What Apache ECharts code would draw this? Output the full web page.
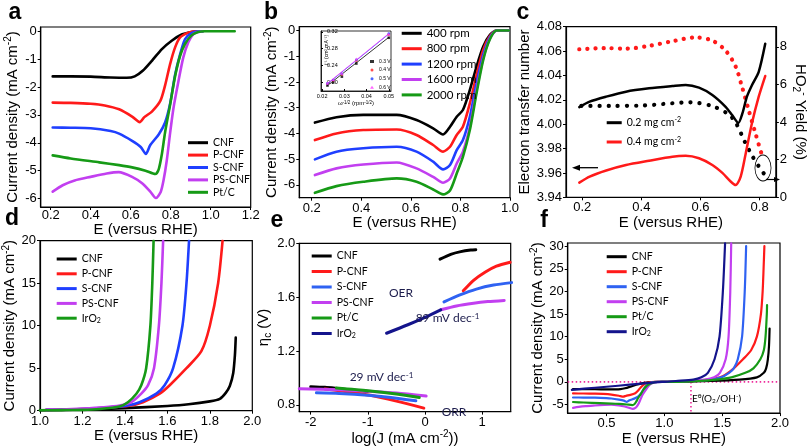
<!DOCTYPE html>
<html><head><meta charset="utf-8">
<script src="https://cdn.jsdelivr.net/npm/echarts@6/dist/echarts.min.js"></script>
<style>html,body{margin:0;padding:0;background:#fff}#c{width:810px;height:447px}</style>
</head><body><div id="c"></div>
<script>
// ================= DATA =================
// ---- Panel a : ORR LSV (E vs RHE, mA cm-2)
const aCNF   = [[0.21,-1.62],[0.3,-1.62],[0.4,-1.63],[0.5,-1.66],[0.58,-1.67],[0.62,-1.62],[0.66,-1.42],[0.706,-1.06],[0.756,-0.64],[0.805,-0.34],[0.855,-0.12],[0.904,-0.03],[0.94,0],[0.96,0]];
const aPCNF  = [[0.21,-2.56],[0.3,-2.57],[0.4,-2.6],[0.47,-2.66],[0.542,-2.8],[0.607,-3.06],[0.645,-3.26],[0.668,-3.08],[0.706,-2.88],[0.748,-2.5],[0.772,-1.94],[0.797,-1.18],[0.822,-0.58],[0.847,-0.22],[0.888,-0.05],[0.92,0],[0.94,0]];
const aSCNF  = [[0.21,-3.45],[0.3,-3.46],[0.4,-3.48],[0.5,-3.58],[0.542,-3.67],[0.607,-3.93],[0.65,-4.15],[0.676,-4.4],[0.698,-4.08],[0.74,-3.7],[0.772,-3.27],[0.797,-2.6],[0.822,-1.56],[0.847,-0.83],[0.872,-0.28],[0.904,-0.07],[0.94,0],[0.96,0]];
const aPSCNF = [[0.21,-5.75],[0.26,-5.52],[0.32,-5.35],[0.4,-5.22],[0.48,-5.1],[0.54,-5.05],[0.607,-5.22],[0.657,-5.45],[0.698,-5.75],[0.726,-5.98],[0.75,-5.76],[0.764,-5.35],[0.78,-4.65],[0.797,-3.65],[0.814,-2.75],[0.838,-1.82],[0.863,-0.94],[0.888,-0.4],[0.912,-0.11],[0.937,-0.03],[0.96,0]];
const aPtC   = [[0.21,-4.45],[0.3,-4.56],[0.443,-4.7],[0.542,-4.8],[0.607,-4.88],[0.674,-5.0],[0.723,-5.12],[0.74,-4.95],[0.756,-4.4],[0.772,-3.62],[0.797,-2.64],[0.822,-1.61],[0.847,-0.88],[0.872,-0.45],[0.904,-0.15],[0.937,-0.03],[0.97,0],[1.12,0]];
const aXTicks = [0.2,0.4,0.6,0.8,1.0,1.2];
const aYTicks = [-6,-5,-4,-3,-2,-1,0];

// ---- Panel b : rotating speeds
const bE     = [0.213,0.30,0.408,0.543,0.623,0.69,0.73,0.758,0.785,0.81,0.838,0.865,0.892,0.919,0.946,0.995];
const b400   = [-3.58,-3.37,-3.28,-3.28,-3.48,-3.8,-4.04,-3.74,-3.35,-3.09,-2.31,-1.4,-0.62,-0.17,0,0];
const b800   = [-4.26,-4.0,-3.87,-3.85,-4.06,-4.45,-4.71,-4.52,-4.06,-3.74,-2.83,-1.73,-0.75,-0.21,0,0];
const b1200  = [-5.01,-4.71,-4.58,-4.52,-4.71,-5.1,-5.4,-5.23,-4.65,-4.26,-3.35,-2.05,-0.95,-0.26,0,0];
const b1600  = [-5.62,-5.36,-5.21,-5.13,-5.36,-5.69,-5.92,-5.75,-5.17,-4.71,-3.74,-2.31,-1.08,-0.31,0,0];
const b2000  = [-6.31,-6.05,-5.88,-5.75,-5.88,-6.18,-6.37,-6.22,-5.56,-4.91,-3.87,-2.44,-1.14,-0.34,0,0];
const bXTicks = [0.2,0.4,0.6,0.8,1.0];
const bYTicks = [-6,-5,-4,-3,-2,-1,0];
// inset (K-L plot)
const iW     = [0.0224,0.025,0.0289,0.0354,0.05];
const i03    = [0.193,0.201,0.214,0.245,0.306];
const i04    = [0.197,0.205,0.219,0.252,0.313];
const i05    = [0.198,0.206,0.221,0.254,0.316];
const i06    = [0.199,0.207,0.222,0.256,0.315];
const iFitW  = [0.0224,0.05];
const iFit03 = [0.193,0.307];
const iFit05 = [0.197,0.315];
const iFit06 = [0.198,0.316];
const iXTicks = [0.02,0.03,0.04,0.05];
const iYTicks = [0.20,0.24,0.28,0.32];

// ---- Panel c : electron transfer number (left) and HO2- yield (right)
const cN02 = [[0.19,4.014],[0.225,4.0185],[0.281,4.0226],[0.348,4.0267],[0.426,4.0294],[0.505,4.0313],[0.55,4.0322],[0.595,4.030],[0.64,4.024],[0.685,4.0143],[0.707,4.0075],[0.728,4.001],[0.742,4.009],[0.757,4.0226],[0.774,4.032],[0.797,4.043],[0.819,4.066]];
const cN04 = [[0.19,3.952],[0.225,3.957],[0.281,3.962],[0.348,3.9665],[0.426,3.970],[0.505,3.9733],[0.55,3.974],[0.595,3.972],[0.64,3.9665],[0.674,3.960],[0.702,3.953],[0.719,3.950],[0.736,3.957],[0.753,3.976],[0.774,4.0007],[0.797,4.0226],[0.819,4.0395]];
const cY02 = [[0.197,4.86],[0.3,4.86],[0.393,4.87],[0.505,5.0],[0.565,5.05],[0.64,4.85],[0.696,4.4],[0.72,3.95],[0.75,2.95],[0.775,2.2],[0.797,1.65],[0.815,1.25]];
const cY04 = [[0.19,7.87],[0.281,7.93],[0.348,7.9],[0.426,8.05],[0.505,8.3],[0.584,8.5],[0.64,8.33],[0.685,7.8],[0.719,6.95],[0.74,5.9],[0.763,4.64],[0.786,3.4],[0.808,2.25],[0.815,2.05]];
const cXTicks = [0.2,0.4,0.6,0.8];
const cNTicks = [3.94,3.96,3.98,4.00,4.02,4.04,4.06,4.08];
const cYTicks = [0,2,4,6,8];

// ---- Panel d : OER LSV
const dCNF   = [[1.0,0.05],[1.2,0.15],[1.4,0.3],[1.6,0.55],[1.7,0.75],[1.8,1.1],[1.847,1.4],[1.875,2.1],[1.894,2.9],[1.91,4.4],[1.918,6.5],[1.922,8.6]];
const dPCNF  = [[1.03,0.1],[1.2,0.2],[1.3,0.35],[1.42,0.6],[1.485,1],[1.564,2],[1.611,3],[1.69,5],[1.76,7],[1.8,10],[1.839,15],[1.86,20]];
const dSCNF  = [[1.03,0.1],[1.2,0.2],[1.3,0.35],[1.406,0.6],[1.469,1],[1.548,2],[1.587,3],[1.627,5],[1.671,10],[1.69,15],[1.702,20]];
const dPSCNF = [[1.03,0.1],[1.1,0.15],[1.2,0.25],[1.3,0.4],[1.375,0.6],[1.43,1],[1.477,2],[1.509,3],[1.537,5],[1.56,10],[1.572,15],[1.58,20]];
const dIrO2  = [[1.0,0.05],[1.1,0.07],[1.2,0.1],[1.28,0.2],[1.375,0.5],[1.414,1],[1.454,2],[1.477,3],[1.5,5],[1.52,10],[1.529,15],[1.535,20]];
const dXTicks = [1.0,1.2,1.4,1.6,1.8,2.0];
const dYTicks = [0,5,10,15,20];

// ---- Panel e : Tafel plots
const eCNF_OER   = [[0.263,1.882],[0.45,1.918],[0.626,1.938],[0.8,1.95],[0.889,1.953]];
const ePCNF_OER  = [[0.67,1.647],[0.85,1.725],[1.05,1.785],[1.25,1.83],[1.49,1.859]];
const eSCNF_OER  = [[0.333,1.565],[0.6,1.615],[0.9,1.66],[1.2,1.69],[1.515,1.708]];
const ePSCNF_OER = [[0.275,1.506],[0.55,1.535],[0.85,1.555],[1.1,1.567],[1.386,1.576]];
const eIrO2_OER  = [[-0.673,1.332],[-0.3,1.395],[0.0,1.45],[0.275,1.506]];
const eCNF_ORR   = [[-2.0,0.935],[-1.75,0.93],[-1.5,0.92],[-1.25,0.91],[-1.0,0.9]];
const ePCNF_ORR  = [[-1.75,0.918],[-1.4,0.9],[-0.95,0.871],[-0.5,0.828],[-0.02,0.776]];
const eSCNF_ORR  = [[-1.9,0.89],[-1.5,0.885],[-1.0,0.872],[-0.6,0.855],[-0.16,0.83]];
const ePSCNF_ORR = [[-2.2,0.92],[-1.5,0.912],[-1.0,0.902],[-0.5,0.888],[0.02,0.866]];
const ePtC_ORR   = [[-1.55,0.925],[-1.0,0.905],[-0.5,0.88],[-0.1,0.854]];
const eXTicks = [-2,-1,0,1];
const eYTicks = [0.8,1.2,1.6,2.0];

// ---- Panel f : bifunctional LSV (ORR part shares panel a data)
const fIrO2_ORR  = [[0.2,-1.75],[0.4,-1.3],[0.6,-0.85],[0.8,-0.4],[0.9,-0.15],[0.98,0]];
const fCNF_OER   = [[1.0,0],[1.1,0.02],[1.4,0.2],[1.65,0.5],[1.8,1.0],[1.86,2],[1.88,3],[1.895,5],[1.905,8],[1.91,11.8]];
const fPCNF_OER  = [[1.0,0],[1.25,0.2],[1.38,0.5],[1.48,1],[1.55,2],[1.6,3],[1.68,5],[1.75,7],[1.8,10],[1.835,15],[1.85,20],[1.858,25],[1.865,30]];
const fSCNF_OER  = [[1.0,0],[1.25,0.2],[1.4,0.5],[1.49,1],[1.56,2],[1.6,3],[1.635,5],[1.672,10],[1.695,20],[1.707,30]];
const fPSCNF_OER = [[1.0,0],[1.2,0.2],[1.35,0.5],[1.43,1],[1.48,2],[1.53,5],[1.555,10],[1.57,20],[1.578,30.6]];
const fPtC_OER   = [[1.12,0],[1.3,0.2],[1.45,0.5],[1.58,1],[1.7,2],[1.77,3],[1.83,5],[1.86,7],[1.875,10],[1.886,15],[1.888,17]];
const fIrO2_OER  = [[1.0,0],[1.1,0.2],[1.25,0.5],[1.32,1],[1.376,2],[1.434,5],[1.477,10],[1.506,20],[1.525,30.6]];
const fRefH = [[0.164,0],[2.0,0]];
const fRefV = [[1.23,0],[1.23,-6.9]];
const fXTicks = [0.5,1.0,1.5,2.0];
const fYTicks = [-5,0,5,10,15,20,25,30];

// ================= STYLE / HELPERS =================
const FONT = '"Liberation Sans", Arial, Helvetica, sans-serif';
const LFONT = 'Lato, "Open Sans", sans-serif';
const COL = {k:'#000000', r:'#ff1a1a', b:'#1f3fff', p:'#c23ff0', g:'#169a16', n:'#14148c', lb:'#2f62f2', m:'#ee2c9c'};
const nameRich = {
  n:{fontSize:15, fontFamily:FONT, color:'#000', lineHeight:18},
  sup:{fontSize:10, fontFamily:FONT, color:'#000', lineHeight:10, verticalAlign:'top'},
  sub:{fontSize:10, fontFamily:FONT, color:'#000', lineHeight:10, verticalAlign:'bottom'}
};
const CD = '{n|Current density (mA cm}{sup|-2}{n|)}';
const ER = 'E (versus RHE)';
function fmt(v, d){ let s = Number(v).toFixed(d); if (/^-0(\.0+)?$/.test(s)) s = s.slice(1); return s; }
function axisBase(gi, min, max, ticks, dec, fs){
  return {type:'value', gridIndex:gi, min, max, scale:false,
    axisLine:{show:true, onZero:false, lineStyle:{color:'#000', width:1.2}},
    axisTick:{show:true, inside:false, length:3, customValues:ticks, lineStyle:{color:'#000', width:1}},
    axisLabel:{customValues:ticks, formatter:v=>fmt(v,dec), color:'#000', fontSize:fs||13, fontFamily:FONT, margin:4, hideOverlap:false},
    splitLine:{show:false}, minorTick:{show:false}};
}
function xAx(gi,min,max,ticks,dec,name,gap,extra){
  return Object.assign(axisBase(gi,min,max,ticks,dec), {name, nameLocation:'middle', nameGap:gap,
    nameTextStyle:{color:'#000', fontSize:15, fontFamily:FONT, rich:nameRich}}, extra||{});
}
function yAx(gi,min,max,ticks,dec,name,gap,extra){
  return Object.assign(axisBase(gi,min,max,ticks,dec), {name, nameLocation:'middle', nameGap:gap,
    nameTextStyle:{color:'#000', fontSize:15, fontFamily:FONT, rich:nameRich}}, extra||{});
}
function ln(name, xi, yi, data, color, width, extra){
  return Object.assign({type:'line', name, xAxisIndex:xi, yAxisIndex:yi, data, showSymbol:false, symbol:'none',
    smooth:0.25, lineStyle:{color, width, join:'round', cap:'round'}, itemStyle:{color}, clip:true, silent:true, z:3}, extra||{});
}
const zip = (xs, ys) => xs.map((x,i)=>[x, ys[i]]);
const lab = n => n.slice(n.indexOf(':')+1).replace('IrO2','IrO{sub|2}').replace('cm-2','cm{sup|-2}');
const legRich = {sub:{fontSize:7, lineHeight:8, verticalAlign:'bottom', fontFamily:LFONT, color:'#000'},
                 sup:{fontSize:7, lineHeight:8, verticalAlign:'top', fontFamily:LFONT, color:'#000'}};
function leg(names, left, top, lh, gap, fs, extra){
  return Object.assign({data:names, left, top, orient:'vertical', padding:0, itemWidth:20, itemHeight:3, itemGap:gap,
    icon:'rect', selectedMode:false, formatter:lab,
    textStyle:{fontFamily:LFONT, fontSize:fs, color:'#000', lineHeight:lh, rich:legRich}}, extra||{});
}
const gridStyle = {show:true, borderColor:'#000', borderWidth:1.2, backgroundColor:'transparent'};

// ================= OPTION =================
const grids = [
  Object.assign({left:40.7, top:27, width:210, height:180}, gridStyle),      // a
  Object.assign({left:299.3, top:26.7, width:210.7, height:171}, gridStyle), // b
  Object.assign({left:566, top:26.7, width:211.3, height:170.6}, gridStyle), // c
  Object.assign({left:40, top:240.7, width:212.3, height:170}, gridStyle),   // d
  Object.assign({left:299.3, top:243.3, width:211.4, height:175.7}, gridStyle), // e
  Object.assign({left:567.7, top:243, width:212.3, height:170.3}, gridStyle), // f
  {left:321, top:31, width:70, height:60, show:true, borderColor:'#000', borderWidth:0.8, backgroundColor:'#fff'} // inset
];
const xAxes = [
  xAx(0,0.15,1.2,aXTicks,1,ER,8),
  xAx(1,0.15,1.0,bXTicks,1,ER,15.8),
  xAx(2,0.145,0.855,cXTicks,1,ER,16.2),
  xAx(3,1.0,2.0,dXTicks,1,ER,17.8),
  xAx(4,-2.2,1.5,eXTicks,0,'{n|log(J (mA cm}{sup|-2}{n|))}',9),
  xAx(5,0.164,2.0,fXTicks,1,ER,15.2),
  Object.assign(axisBase(6,0.0195,0.051,iXTicks,2,5.5), {name:'{n|ω}{s|-1/2}{n| (rpm}{s|-1/2}{n|)}', nameLocation:'middle', nameGap:8,
     nameTextStyle:{rich:{n:{fontSize:6,fontFamily:FONT,color:'#000',lineHeight:7},s:{fontSize:4.5,fontFamily:FONT,color:'#000',lineHeight:4,verticalAlign:'top'}}}})
];
xAxes[0].axisLabel.margin = 1.5;
xAxes[6].axisTick.length = 2; xAxes[6].axisTick.inside = true; xAxes[6].axisLabel.margin = 2; xAxes[6].axisLine.lineStyle.width = 0.8;
const yAxes = [
  yAx(0,-6.3,0.15,aYTicks,0,CD,19),
  yAx(1,-6.5,0.15,bYTicks,0,CD,14),
  yAx(2,3.94,4.08,cNTicks,2,'Electron transfer number',25.5),
  yAx(2,0,9.07,cYTicks,0,'{n|HO}{sub|2}{sup|-}{n| Yield (%)}',14,{position:'right', nameRotate:-90}),
  yAx(3,0,20,dYTicks,0,CD,19.5),
  yAx(4,0.75,2.0,eYTicks,1,'{n|η}{sub|c}{n| (V)}',15),
  yAx(5,-6.9,30.7,fYTicks,0,CD,16),
  Object.assign(axisBase(6,0.18,0.322,iYTicks,2,5.5), {})
];
yAxes[7].axisLabel.inside = true; yAxes[7].axisLabel.margin = 6; yAxes[7].axisTick.inside = true; yAxes[7].axisTick.length = 2; yAxes[7].axisLine.lineStyle.width = 0.8;

const series = [
  // a
  ln('a:CNF',0,0,aCNF,COL.k,2.6), ln('a:P-CNF',0,0,aPCNF,COL.r,2.6), ln('a:S-CNF',0,0,aSCNF,COL.b,2.6),
  ln('a:PS-CNF',0,0,aPSCNF,COL.p,2.6), ln('a:Pt/C',0,0,aPtC,COL.g,2.6),
  // b
  ln('b:400 rpm',1,1,zip(bE,b400),COL.k,2.6), ln('b:800 rpm',1,1,zip(bE,b800),COL.r,2.6),
  ln('b:1200 rpm',1,1,zip(bE,b1200),COL.b,2.6), ln('b:1600 rpm',1,1,zip(bE,b1600),COL.p,2.6),
  ln('b:2000 rpm',1,1,zip(bE,b2000),COL.g,2.6),
  // inset
  ln('ifit03',6,7,zip(iFitW,iFit03),COL.k,0.8,{smooth:false,z:5}),
  ln('ifit05',6,7,zip(iFitW,iFit05),COL.b,0.8,{smooth:false,z:5}),
  ln('ifit06',6,7,zip(iFitW,iFit06),'#ff40ff',0.8,{smooth:false,z:5}),
  {type:'scatter',name:'i:0.3 V',xAxisIndex:6,yAxisIndex:7,data:zip(iW,i03),symbol:'rect',symbolSize:2.6,itemStyle:{color:'#000'},z:6,silent:true},
  {type:'scatter',name:'i:0.4 V',xAxisIndex:6,yAxisIndex:7,data:zip(iW,i04),symbol:'circle',symbolSize:2.6,itemStyle:{color:'#ff2020'},z:6,silent:true},
  {type:'scatter',name:'i:0.5 V',xAxisIndex:6,yAxisIndex:7,data:zip(iW,i05),symbol:'circle',symbolSize:2.6,itemStyle:{color:'#2040ff'},z:6,silent:true},
  {type:'scatter',name:'i:0.6 V',xAxisIndex:6,yAxisIndex:7,data:zip(iW,i06),symbol:'triangle',symbolSize:3,itemStyle:{color:'#ff40ff'},z:6,silent:true},
  // c
  ln('c:y04',2,3,cY04,COL.r,4.2,{smooth:0.3,lineStyle:{color:COL.r,width:4.2,type:[0.1,8],cap:'round'}}),
  ln('c:y02',2,3,cY02,COL.k,4.2,{smooth:0.3,lineStyle:{color:COL.k,width:4.2,type:[0.1,9],cap:'round'}}),
  ln('c:0.2 mg cm-2',2,2,cN02,COL.k,2.5), ln('c:0.4 mg cm-2',2,2,cN04,COL.r,2.5),
  // d
  ln('d:CNF',3,4,dCNF,COL.k,2.6), ln('d:P-CNF',3,4,dPCNF,COL.r,2.6), ln('d:S-CNF',3,4,dSCNF,COL.b,2.6),
  ln('d:PS-CNF',3,4,dPSCNF,COL.p,2.6), ln('d:IrO2',3,4,dIrO2,COL.g,2.6),
  // e
  ln('e:CNF',4,5,eCNF_OER,COL.k,3), ln('e:CNF',4,5,eCNF_ORR,COL.k,3),
  ln('e:P-CNF',4,5,ePCNF_OER,COL.r,3), ln('e:P-CNF',4,5,ePCNF_ORR,COL.r,3),
  ln('e:S-CNF',4,5,eSCNF_OER,COL.lb,3), ln('e:S-CNF',4,5,eSCNF_ORR,COL.lb,3),
  ln('e:PS-CNF',4,5,ePSCNF_OER,COL.p,3), ln('e:PS-CNF',4,5,ePSCNF_ORR,COL.p,3),
  ln('e:Pt/C',4,5,ePtC_ORR,COL.g,3),
  ln('e:IrO2',4,5,eIrO2_OER,COL.n,3),
  // f
  ln('f:refH',5,6,fRefH,COL.m,1.6,{smooth:false,lineStyle:{color:COL.m,width:1.6,type:[1.5,2.5]},z:2}),
  ln('f:refV',5,6,fRefV,COL.m,1.6,{smooth:false,lineStyle:{color:COL.m,width:1.6,type:[1.5,2.5]},z:2}),
  ln('f:CNF',5,6,aCNF.concat(fCNF_OER),COL.k,2.2),
  ln('f:P-CNF',5,6,aPCNF.concat(fPCNF_OER),COL.r,2.2),
  ln('f:S-CNF',5,6,aSCNF.concat(fSCNF_OER),COL.lb,2.2),
  ln('f:PS-CNF',5,6,aPSCNF.concat(fPSCNF_OER),COL.p,2.2),
  ln('f:Pt/C',5,6,aPtC.concat(fPtC_OER),COL.g,2.2),
  ln('f:IrO2',5,6,fIrO2_ORR.concat(fIrO2_OER),COL.n,2.2)
];

const legends = [
  leg(['a:CNF','a:P-CNF','a:S-CNF','a:PS-CNF','a:Pt/C'],188,136.7,12,0.4,10.5),
  leg(['b:400 rpm','b:800 rpm','b:1200 rpm','b:1600 rpm','b:2000 rpm'],401.7,26.8,13,2.4,11.5),
  leg(['c:0.2 mg cm-2','c:0.4 mg cm-2'],606.7,116.7,12,7.3,10.5,{itemWidth:15}),
  leg(['d:CNF','d:P-CNF','d:S-CNF','d:PS-CNF','d:IrO2'],56.7,253,12,2.8,10.5),
  leg(['e:CNF','e:P-CNF','e:S-CNF','e:PS-CNF','e:Pt/C','e:IrO2'],311.7,250,12,3.5,10.5),
  leg(['f:CNF','f:P-CNF','f:S-CNF','f:PS-CNF','f:Pt/C','f:IrO2'],606.7,250.7,12,3,10.5),
  {data:['i:0.3 V','i:0.4 V','i:0.5 V','i:0.6 V'], left:370, top:58, orient:'vertical', padding:0, itemWidth:4, itemHeight:3,
   itemGap:1.6, selectedMode:false, formatter:lab, textStyle:{fontFamily:FONT, fontSize:5, color:'#000', lineHeight:7}}
];

function letter(t,x,y){ return {type:'text', x, y, z:100, style:{text:t, font:'bold 23px "Liberation Sans", Arial', fill:'#000', align:'center', verticalAlign:'middle', textAlign:'center', textVerticalAlign:'middle'}}; }
const annRich = {n:{fontSize:12, fontFamily:LFONT, color:'#1c1c4c'}, sup:{fontSize:8, fontFamily:LFONT, color:'#1c1c4c', verticalAlign:'top', lineHeight:8}};
function ann(t,x,y){ return {type:'text', x, y, z:100, style:{text:t, rich:annRich, font:'12px Lato', fill:'#1c1c4c', align:'center', verticalAlign:'middle', textAlign:'center', textVerticalAlign:'middle'}}; }
const graphic = [
  letter('a',15,13), letter('b',271,13), letter('c',523,13), letter('d',12,219), letter('e',277,221), letter('f',544,221),
  ann('{n|OER}',401,293), ann('{n|89 mV dec}{sup|-1}',447.5,318), ann('{n|29 mV dec}{sup|-1}',381.5,377), ann('{n|ORR}',454,412.5),
  // arrows & ellipse in panel c
  {type:'line', z:100, shape:{x1:598,y1:167.7,x2:578,y2:167.7}, style:{stroke:'#000', lineWidth:1.3}},
  {type:'polygon', z:100, shape:{points:[[572,167.7],[580,164.7],[580,170.7]]}, style:{fill:'#000'}},
  {type:'circle', z:100, x:763, y:168, scaleX:0.62, scaleY:1, shape:{cx:0,cy:0,r:13}, style:{fill:'none', stroke:'#000', lineWidth:1.2, strokeNoScale:true}},
  {type:'line', z:100, shape:{x1:766,y1:179.5,x2:775,y2:179.5}, style:{stroke:'#000', lineWidth:1.2}},
  {type:'polygon', z:100, shape:{points:[[780,179.5],[774,177],[774,182]]}, style:{fill:'#000'}},
  // E0 label in panel f
  {type:'text', x:692, y:398.5, z:100, style:{text:'{n|E}{sp|θ}{n|(O}{sb|2}{n|/OH}{sp|-}{n|)}', rich:{
     n:{fontSize:10, fontFamily:LFONT, color:'#e0308f', lineHeight:12},
     sp:{fontSize:6.5, fontFamily:LFONT, color:'#e0308f', lineHeight:7, verticalAlign:'top'},
     sb:{fontSize:6.5, fontFamily:LFONT, color:'#e0308f', lineHeight:7, verticalAlign:'bottom'}},
     align:'left', verticalAlign:'middle', textAlign:'left', textVerticalAlign:'middle'}},
  // inset y name
  {type:'text', x:326.5, y:50, rotation:Math.PI/2, z:100, style:{text:'j⁻¹ (cm² mA⁻¹)', font:'5px "Liberation Sans", Arial', fill:'#000', align:'center', verticalAlign:'middle', textAlign:'center', textVerticalAlign:'middle'}}
];

const chart = echarts.init(document.getElementById('c'), null, {renderer:'canvas', width:810, height:447});
chart.setOption({animation:false, backgroundColor:'#fff', grid:grids, xAxis:xAxes, yAxis:yAxes, legend:legends, series, graphic, tooltip:{show:false}});
</script></body></html>
